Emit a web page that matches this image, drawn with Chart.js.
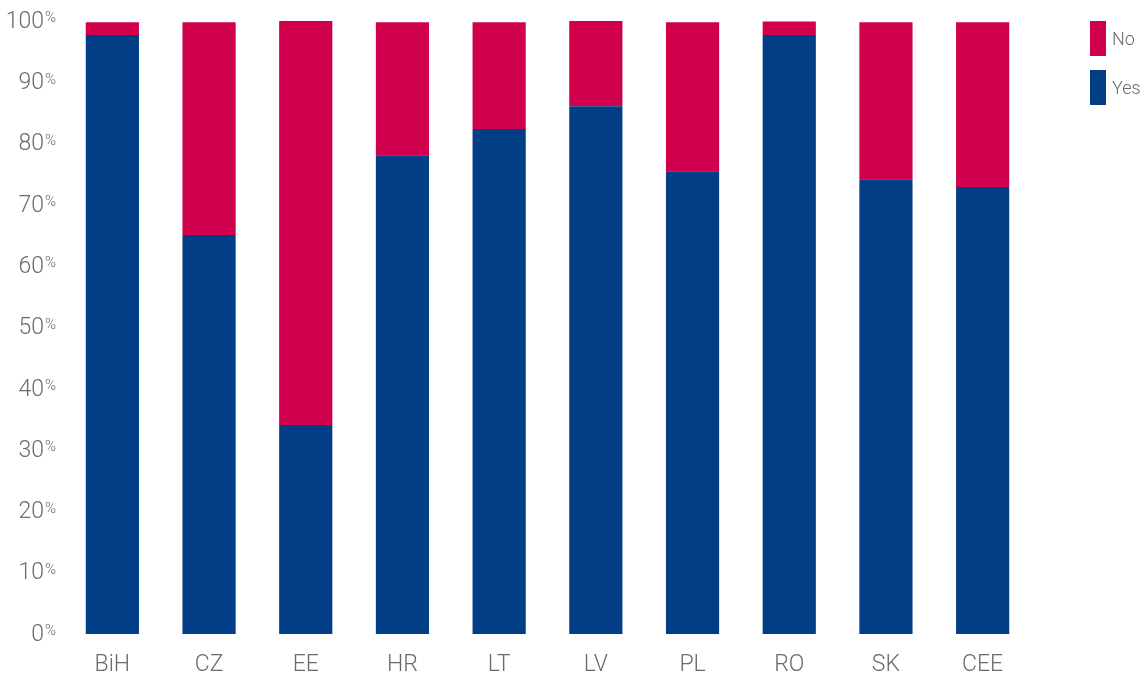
<!DOCTYPE html>
<html>
<head>
<meta charset="utf-8">
<script src="https://cdn.jsdelivr.net/npm/chart.js@4"></script>
<style>
  html, body { margin: 0; padding: 0; background: #fff; }
  #wrap { width: 1144px; height: 675px; }
</style>
</head>
<body>
<div id="wrap"><canvas id="chart" width="1144" height="675"></canvas></div>
<script>
const categories = ['BiH', 'CZ', 'EE', 'HR', 'LT', 'LV', 'PL', 'RO', 'SK', 'CEE'];
const yesValues = [97.7, 65.1, 34.1, 78.1, 82.4, 86.1, 75.5, 97.7, 74.2, 72.9];
const noValues = [2.1, 34.7, 66.0, 21.7, 17.4, 13.9, 24.3, 2.2, 25.6, 26.9];
const yTicks = [0, 10, 20, 30, 40, 50, 60, 70, 80, 90, 100];

const BLUE = '#023e85';
const RED = '#d0004c';
const GREY = '#6b6b6b';
const FONT = 'Roboto, "Liberation Sans", sans-serif';

// y labels with a small raised % sign, drawn from the y scale
const yLabelPlugin = {
    id: 'yLabels',
    afterDraw(chart) {
        const ctx = chart.ctx;
        const y = chart.scales.y;
        ctx.save();
        ctx.fillStyle = GREY;
        yTicks.forEach(v => {
            const py = y.getPixelForValue(v);
            ctx.font = '300 23px ' + FONT;
            ctx.textAlign = 'right';
            ctx.textBaseline = 'middle';
            ctx.fillText(String(v), 44, py + 1);
            ctx.font = '300 15px ' + FONT;
            ctx.textAlign = 'left';
            ctx.textBaseline = 'top';
            ctx.fillText('%', 45, py - 10);
        });
        ctx.restore();
    }
};

// legend on the right, No above Yes
const legendPlugin = {
    id: 'sideLegend',
    afterDraw(chart) {
        const ctx = chart.ctx;
        const items = chart.data.datasets.slice().reverse();
        ctx.save();
        items.forEach((ds, i) => {
            const top = 21 + i * 49;
            ctx.fillStyle = ds.backgroundColor;
            ctx.fillRect(1090, top, 16, 35);
            ctx.fillStyle = GREY;
            ctx.font = '300 18px ' + FONT;
            ctx.textAlign = 'left';
            ctx.textBaseline = 'middle';
            ctx.fillText(ds.label, 1112, top + 19);
        });
        ctx.restore();
    }
};

const ctx = document.getElementById('chart').getContext('2d');
new Chart(ctx, {
    type: 'bar',
    data: {
        labels: categories,
        datasets: [
            { label: 'Yes', data: yesValues, backgroundColor: BLUE },
            { label: 'No', data: noValues, backgroundColor: RED }
        ]
    },
    options: {
        responsive: false,
        animation: false,
        devicePixelRatio: 1,
        layout: { padding: { top: 21, right: 113, left: 0, bottom: 0 } },
        plugins: {
            legend: { display: false },
            tooltip: { enabled: false }
        },
        datasets: {
            bar: { barPercentage: 0.55, categoryPercentage: 1.0 }
        },
        scales: {
            x: {
                stacked: true,
                grid: { display: false, drawTicks: false },
                border: { display: false },
                ticks: {
                    color: GREY,
                    font: { family: FONT, size: 23, weight: 300 },
                    padding: 17
                },
                afterFit(scale) { scale.height = 41; }
            },
            y: {
                stacked: true,
                min: 0,
                max: 100,
                grid: { display: false, drawTicks: false },
                border: { display: false },
                ticks: { display: false, stepSize: 10 },
                afterFit(scale) { scale.width = 64; }
            }
        }
    },
    plugins: [yLabelPlugin, legendPlugin]
});
</script>
</body>
</html>
